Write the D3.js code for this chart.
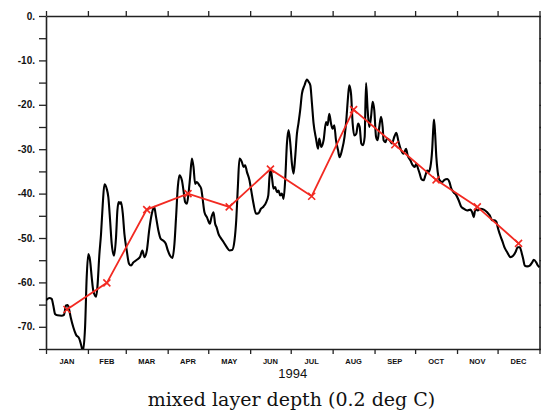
<!DOCTYPE html>
<html><head><meta charset="utf-8">
<script src="https://cdn.jsdelivr.net/npm/d3@7"></script>
<style>body{margin:0;background:#fff}</style>
</head><body><svg id="c" width="541" height="415"></svg>
<script>
const months = ["JAN","FEB","MAR","APR","MAY","JUN","JUL","AUG","SEP","OCT","NOV","DEC"];
const monthlyMean = [-66.1,-60.1,-43.6,-40.0,-43.0,-34.5,-40.6,-21.1,-29.0,-36.9,-43.0,-51.2];
const yTicks = [0,-10,-20,-30,-40,-50,-60,-70];
const yearLabel = "1994";
const title = "mixed layer depth (0.2 deg C)";
// days since 1 Jan 1994 and depth (m) of the daily curve
const dailyDay = [0,2.5,4.2,5.4,6.7,8.5,11.6,13.3,14.8,16.0,17.0,18.3,20.2,22.2,24.5,26.4,27.2,28.9,30.1,31.3,32.6,33.8,35.0,37.0,38.0,39.5,40.7,42.0,43.2,44.9,46.1,47.4,48.6,50.3,51.8,52.8,53.8,54.8,55.5,56.8,58.0,59.7,61.4,62.9,64.6,67.2,69.6,71.3,72.8,74.6,76.3,78.3,80.0,81.4,83.1,84.9,86.8,88.6,90.1,91.8,93.5,95.0,96.2,97.5,98.7,100.5,101.7,102.9,104.2,105.4,106.6,107.9,109.1,110.3,111.6,113.3,114.8,115.7,117.2,119.0,121.2,122.4,123.9,125.1,126.2,127.5,128.8,131.3,133.8,135.7,137.7,139.4,140.7,141.9,143.1,144.9,146.1,147.3,148.6,150.5,151.8,153.5,155.3,157.2,159.0,160.9,162.9,164.4,165.3,166.1,167.1,168.3,169.5,170.8,172.0,173.2,174.5,175.7,176.9,178.2,179.4,180.6,181.9,183.1,184.3,185.6,186.8,188.0,189.3,191.2,193.0,194.2,195.5,196.7,197.9,199.7,201.2,202.1,203.6,205.3,207.1,208.3,209.5,210.8,212.0,213.2,214.5,216.0,217.1,218.9,220.8,222.1,223.4,224.3,225.6,226.8,228.0,229.5,230.8,232.0,233.2,234.5,235.7,236.7,237.9,239.1,240.4,241.6,242.8,244.1,245.3,246.5,247.8,249.0,249.7,251.0,252.2,254.2,255.9,257.6,259.1,260.8,262.6,264.5,266.3,267.5,269.5,271.2,272.7,273.9,275.2,276.4,277.6,279.3,280.6,281.9,283.0,284.3,285.6,286.5,287.0,287.8,288.7,289.7,291.2,293.0,294.7,296.7,298.4,299.8,301.5,303.5,305.2,307.0,308.9,311.5,313.9,315.2,316.4,317.6,319.3,321.3,323.8,326.3,328.2,330.0,331.7,333.2,334.1,335.6,337.4,339.1,341.1,343.5,345.5,347.2,348.9,350.4,351.7,352.9,354.1,355.9,357.8,359.6,360.8,362.6,363.8,365.0];
const dailyDepth = [-64.0,-63.5,-63.7,-65.2,-67.1,-67.4,-67.5,-67.3,-65.2,-65.1,-66.0,-67.9,-70.1,-71.8,-72.6,-74.6,-75.6,-70.1,-58.8,-53.6,-55.1,-58.8,-61.9,-63.2,-61.1,-53.6,-49.1,-42.3,-37.9,-38.9,-40.8,-46.0,-51.3,-54.0,-49.8,-43.8,-41.9,-42.3,-41.9,-44.5,-49.1,-52.8,-55.8,-56.2,-55.5,-54.9,-54.2,-52.8,-54.3,-52.8,-48.3,-44.5,-43.0,-45.3,-48.3,-50.2,-50.6,-51.3,-52.8,-54.0,-54.5,-51.3,-45.3,-38.5,-35.9,-37.0,-39.3,-41.9,-42.3,-40.0,-36.3,-32.1,-34.0,-37.8,-37.4,-38.1,-38.9,-40.8,-44.2,-45.3,-46.8,-45.3,-44.2,-46.8,-47.6,-49.0,-49.8,-50.9,-52.1,-52.8,-52.7,-50.6,-46.0,-38.5,-32.1,-32.9,-34.0,-33.6,-35.1,-37.0,-39.3,-42.3,-44.5,-44.4,-43.4,-42.9,-41.9,-40.4,-36.3,-34.4,-36.3,-38.9,-38.5,-39.7,-39.3,-40.4,-40.0,-41.2,-37.0,-28.7,-25.7,-28.4,-33.3,-35.5,-31.8,-26.5,-24.0,-21.2,-17.5,-15.6,-14.3,-14.8,-15.6,-19.7,-24.2,-27.6,-29.9,-27.6,-29.5,-28.0,-23.9,-24.6,-22.0,-24.2,-25.4,-24.6,-28.0,-30.2,-31.8,-30.2,-27.2,-23.5,-18.2,-15.6,-17.5,-24.2,-26.9,-26.5,-24.2,-25.0,-28.7,-29.1,-27.2,-15.1,-21.2,-25.0,-22.7,-19.3,-21.2,-27.2,-28.0,-25.0,-22.7,-25.0,-28.0,-28.4,-27.6,-28.0,-28.7,-27.2,-26.3,-28.4,-30.2,-31.0,-29.9,-31.4,-32.5,-33.6,-34.0,-33.3,-34.4,-35.5,-36.7,-37.0,-35.9,-34.8,-35.1,-34.0,-30.2,-25.0,-23.3,-26.5,-31.8,-35.1,-37.0,-37.4,-36.9,-36.7,-37.4,-38.9,-39.7,-40.4,-41.5,-42.9,-43.4,-43.8,-43.6,-44.2,-45.3,-43.4,-43.8,-43.4,-43.6,-44.2,-44.9,-46.0,-46.0,-46.4,-47.6,-49.1,-50.6,-52.1,-53.2,-54.3,-54.0,-53.2,-52.1,-52.1,-53.2,-54.7,-56.2,-56.4,-56.2,-55.5,-54.9,-55.5,-56.2,-56.6];

const L = 46, R = 539.5, T = 16, B = 349;
const t0 = new Date(Date.UTC(1994,0,1)), t1 = new Date(Date.UTC(1995,0,1));
const DAY = 86400000;
const x = d3.scaleUtc().domain([t0, t1]).range([L, R]);
const y = d3.scaleLinear().domain([-75, 0]).range([B, T]);
const svg = d3.select("#c");

svg.append("defs").append("clipPath").attr("id","clip")
  .append("rect").attr("x",L).attr("y",T).attr("width",R-L+2).attr("height",B-T);

const monthStarts = d3.utcMonth.range(t0, new Date(Date.UTC(1995,0,2)));
const minorY = d3.range(0, -76, -5);
const axisColor = "#222";

function styleAxis(g){
  g.select(".domain").attr("stroke", axisColor).attr("stroke-width", 1.6);
  g.selectAll(".tick line").attr("stroke", axisColor).attr("stroke-width", 1.3);
}
// left axis
svg.append("g").attr("transform",`translate(${L},0)`)
  .call(d3.axisLeft(y).tickValues(minorY).tickSize(7).tickSizeOuter(0).tickFormat(""))
  .call(styleAxis);
svg.append("g").selectAll("text").data(yTicks).join("text")
  .attr("x", 35).attr("y", d => y(d)).attr("dy","0.35em")
  .attr("text-anchor","end").attr("font-family","Liberation Sans, Arial, sans-serif")
  .attr("font-size", 10).attr("font-weight","bold").attr("fill","#111")
  .text(d => d === 0 ? "0." : d + ".");
// right axis
svg.append("g").attr("transform",`translate(${R},0)`)
  .call(d3.axisRight(y).tickValues(minorY).tickSize(6).tickSizeOuter(0).tickFormat(""))
  .call(styleAxis);
// top axis
svg.append("g").attr("transform",`translate(0,${T})`)
  .call(d3.axisTop(x).tickValues(monthStarts).tickSize(5).tickSizeOuter(0).tickFormat(""))
  .call(styleAxis);
// bottom axis
svg.append("g").attr("transform",`translate(0,${B})`)
  .call(d3.axisBottom(x).tickValues(monthStarts).tickSize(5).tickSizeOuter(0).tickFormat(""))
  .call(styleAxis);

const mid = i => new Date((monthStarts[i].getTime() + monthStarts[i+1].getTime())/2);
svg.append("g").selectAll("text").data(months).join("text")
  .attr("x", (d,i) => x(mid(i))).attr("y", 363.5)
  .attr("text-anchor","middle").attr("font-family","Liberation Sans, Arial, sans-serif")
  .attr("font-size", 7.5).attr("font-weight","bold").attr("fill","#111")
  .text(d => d);
svg.append("text").attr("x", (L+R)/2).attr("y", 377.5).attr("text-anchor","middle")
  .attr("font-family","Liberation Sans, Arial, sans-serif").attr("font-size",13).attr("fill","#111")
  .text(yearLabel);
svg.append("text").attr("x", 291.5).attr("y", 405.5).attr("text-anchor","middle")
  .attr("font-family","DejaVu Serif, serif").attr("font-size",19).attr("fill","#111")
  .text(title);

// daily curve
const daily = dailyDay.map((d,i) => ({t: new Date(t0.getTime() + d*DAY), v: dailyDepth[i]}));
svg.append("path").datum(daily).attr("clip-path","url(#clip)")
  .attr("fill","none").attr("stroke","#000").attr("stroke-width",2.1).attr("stroke-linejoin","round")
  .attr("d", d3.line().x(d => x(d.t)).y(d => y(d.v)).curve(d3.curveMonotoneX));

// monthly means
const monthly = monthlyMean.map((v,i) => ({t: mid(i), v}));
const red = "#f22a22";
svg.append("path").datum(monthly).attr("fill","none").attr("stroke",red).attr("stroke-width",1.8)
  .attr("d", d3.line().x(d => x(d.t)).y(d => y(d.v)));
const s = 3.5;
svg.append("g").selectAll("path").data(monthly).join("path")
  .attr("stroke", red).attr("stroke-width", 1.6).attr("fill","none")
  .attr("d", d => { const cx = x(d.t), cy = y(d.v);
    return `M${cx-s},${cy-s}L${cx+s},${cy+s}M${cx-s},${cy+s}L${cx+s},${cy-s}`; });
</script></body></html>
